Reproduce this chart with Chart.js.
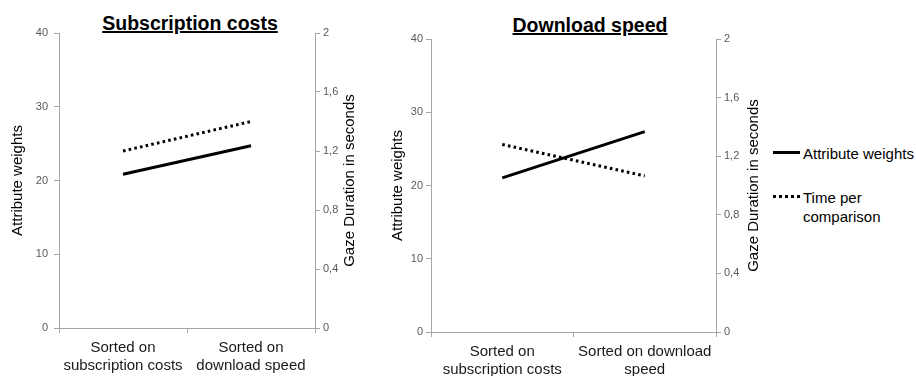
<!DOCTYPE html>
<html lang="en">
<head>
<meta charset="UTF-8">
<title>Attribute weights and gaze duration</title>
<script src="https://cdn.jsdelivr.net/npm/chart.js"></script>
<style>
    body {
        margin: 0;
        width: 916px;
        height: 376px;
        position: relative;
        overflow: hidden;
        background: #fff;
        font-family: 'Liberation Sans', Arial, sans-serif;
    }

    .titre {
        position: absolute;
        font-size: 19.5px;
        font-weight: bold;
        line-height: 22px;
        white-space: nowrap;
        text-decoration: underline;
        text-decoration-thickness: 2px;
        transform: translateX(-50%);
    }

    .bloc { position: absolute; top: 0; }

    /* legende a droite */
    .leg-trait { position: absolute; left: 773px; width: 27px; border-top: 3px solid #000; }
    .leg-texte { position: absolute; left: 803px; font-size: 15px; line-height: 19px; color: #000; }
</style>
</head>
<body>

<div class="titre" style="left:190px; top:12px;">Subscription costs</div>
<div class="titre" style="left:590px; top:14px;">Download speed</div>

<div class="bloc" style="left:0;"><canvas id="chartCosts" width="365" height="376"></canvas></div>
<div class="bloc" style="left:380px;"><canvas id="chartSpeed" width="386" height="376"></canvas></div>

<div class="leg-trait" style="top:151px;"></div>
<div class="leg-texte" id="legA" style="top:144px;"></div>
<div class="leg-trait" style="top:195px; border-top-style:dotted;"></div>
<div class="leg-texte" id="legB" style="top:188px;"></div>

<script>
    // donnees
    const seriesNames = ['Attribute weights', 'Time per comparison'];
    const categoriesCosts = [['Sorted on', 'subscription costs'], ['Sorted on', 'download speed']];
    const categoriesSpeed = [['Sorted on', 'subscription costs'], ['Sorted on download', 'speed']];
    const weightsCosts = [20.85, 24.7];
    const gazeCosts = [1.2, 1.4];
    const weightsSpeed = [21.05, 27.35];
    const gazeSpeed = [1.28, 1.065];
    const weightTicks = ['0', '10', '20', '30', '40'];
    const gazeTicks = ['0', '0,4', '0,8', '1,2', '1,6', '2'];
    const gazeTitle = 'Gaze Duration in seconds';

    Chart.defaults.font.family = "'Liberation Sans', Arial, sans-serif";

    const axisGrey = '#a6a6a6';
    const tickGrey = '#595959';

    // titre de l'axe de droite, lu de bas en haut comme dans Excel
    const rightTitle = {
        id: 'rightTitle',
        afterDraw(chart, args, opts) {
            const ctx = chart.ctx;
            const area = chart.chartArea;
            ctx.save();
            ctx.translate(opts.x, (area.top + area.bottom) / 2);
            ctx.rotate(-Math.PI / 2);
            ctx.font = "15px 'Liberation Sans', Arial, sans-serif";
            ctx.fillStyle = '#000';
            ctx.textAlign = 'center';
            ctx.textBaseline = 'middle';
            ctx.fillText(gazeTitle, 0, 0);
            ctx.restore();
        }
    };

    function buildChart(id, categories, weights, gaze, g) {
        return new Chart(document.getElementById(id), {
            type: 'line',
            data: {
                labels: categories,
                datasets: [{
                    label: seriesNames[0],
                    data: weights,
                    yAxisID: 'y',
                    borderColor: '#000',
                    borderWidth: 3,
                    pointRadius: 0
                }, {
                    label: seriesNames[1],
                    data: gaze,
                    yAxisID: 'y1',
                    borderColor: '#000',
                    borderWidth: 3,
                    borderDash: [2.6, 3.2],
                    pointRadius: 0
                }]
            },
            plugins: [rightTitle],
            options: {
                responsive: false,
                animation: false,
                layout: { padding: { top: g.top, left: 0, right: 0, bottom: 0 } },
                plugins: {
                    legend: { display: false },
                    tooltip: { enabled: false },
                    rightTitle: { x: g.rightTitleX }
                },
                scales: {
                    x: {
                        offset: true,
                        grid: { offset: true, drawOnChartArea: false, tickLength: 5, color: axisGrey },
                        border: { color: axisGrey },
                        ticks: { font: { size: 15 }, color: '#1a1a1a', padding: 6, maxRotation: 0, autoSkip: false },
                        afterFit: s => { s.height = g.bottom; }
                    },
                    y: {
                        position: 'left',
                        min: 0,
                        max: 40,
                        grid: { drawOnChartArea: false, tickLength: 5, color: axisGrey },
                        border: { color: axisGrey },
                        ticks: { stepSize: 10, font: { size: 11 }, color: tickGrey, padding: g.leftPad,
                            callback: (v, i) => weightTicks[i] },
                        title: { display: true, text: seriesNames[0], font: { size: 15 }, color: '#000',
                            padding: { top: g.leftTitle, bottom: 0 } },
                        afterFit: s => { s.width = g.leftW; }
                    },
                    y1: {
                        position: 'right',
                        min: 0,
                        max: 2,
                        grid: { drawOnChartArea: false, tickLength: 5, color: axisGrey },
                        border: { color: axisGrey },
                        ticks: { stepSize: 0.4, font: { size: 11 }, color: tickGrey, padding: 3,
                            callback: (v, i) => gazeTicks[i] },
                        afterFit: s => { s.width = g.rightW; }
                    }
                }
            }
        });
    }

    buildChart('chartCosts', categoriesCosts, weightsCosts, gazeCosts,
        { top: 33, bottom: 48, leftW: 59, rightW: 50, leftPad: 6, leftTitle: 9, rightTitleX: 350 });
    buildChart('chartSpeed', categoriesSpeed, weightsSpeed, gazeSpeed,
        { top: 39, bottom: 44, leftW: 51, rightW: 50, leftPad: 3, leftTitle: 9, rightTitleX: 374 });

    document.getElementById('legA').textContent = seriesNames[0];
    document.getElementById('legB').innerHTML = 'Time per<br>comparison';
</script>
</body>
</html>
